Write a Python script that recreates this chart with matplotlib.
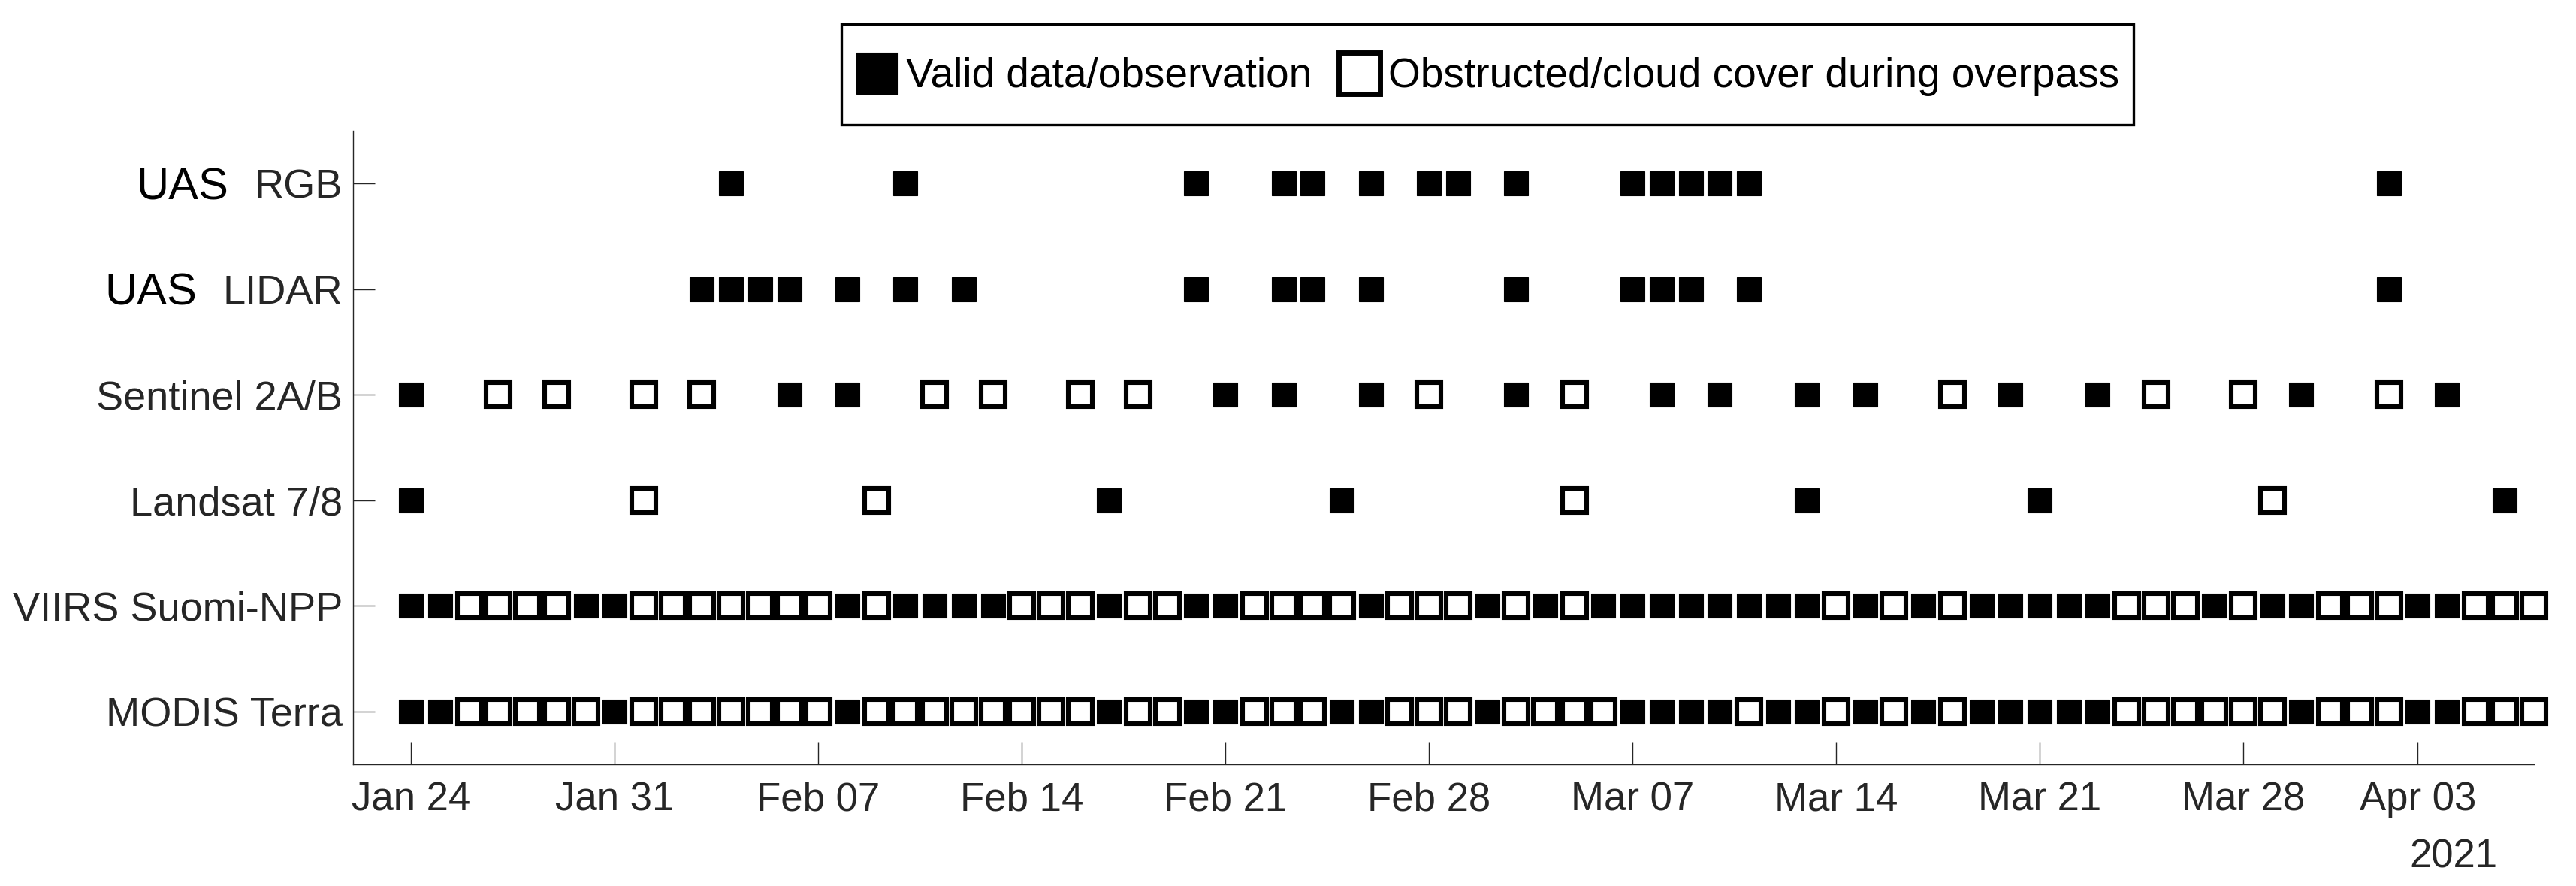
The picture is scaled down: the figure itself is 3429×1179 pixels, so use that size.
import matplotlib
matplotlib.use("Agg")
import matplotlib.pyplot as plt
import matplotlib.dates as mdates
from matplotlib.lines import Line2D
from matplotlib.transforms import IdentityTransform
import numpy as np
import pandas as pd

plt.rcParams["font.family"] = ["Liberation Sans", "DejaVu Sans"]

# rows, bottom to top
row_labels = ["MODIS Terra", "VIIRS Suomi-NPP", "Landsat 7/8", "Sentinel 2A/B", "LIDAR", "RGB"]

# daily overpasses Jan 24 .. Apr 07 (1 = valid, 0 = obstructed)
daily_start = "2021-01-24"
modis_valid = [1, 1, 0, 0, 0, 0, 0, 1, 0, 0,
               0, 0, 0, 0, 0, 1, 0, 0, 0, 0,
               0, 0, 0, 0, 1, 0, 0, 1, 1, 0,
               0, 0, 1, 1, 0, 0, 0, 1, 0, 0,
               0, 0, 1, 1, 1, 1, 0, 1, 1, 0,
               1, 0, 1, 0, 1, 1, 1, 1, 1, 0,
               0, 0, 0, 0, 0, 1, 0, 0, 0, 1,
               1, 0, 0, 0]
viirs_valid = [1, 1, 0, 0, 0, 0, 1, 1, 0, 0,
               0, 0, 0, 0, 0, 1, 0, 1, 1, 1,
               1, 0, 0, 0, 1, 0, 0, 1, 1, 0,
               0, 0, 0, 1, 0, 0, 0, 1, 0, 1,
               0, 1, 1, 1, 1, 1, 1, 1, 1, 0,
               1, 0, 1, 0, 1, 1, 1, 1, 1, 0,
               0, 0, 1, 0, 1, 1, 0, 0, 0, 1,
               1, 0, 0, 0]

landsat_dates = ["2021-01-24", "2021-02-01", "2021-02-09", "2021-02-17", "2021-02-25",
                 "2021-03-05", "2021-03-13", "2021-03-21", "2021-03-29", "2021-04-06"]
landsat_valid = [1, 0, 0, 1, 1, 0, 1, 1, 0, 1]

sentinel_dates = ["2021-01-24", "2021-01-27", "2021-01-29", "2021-02-01", "2021-02-03",
                  "2021-02-06", "2021-02-08", "2021-02-11", "2021-02-13", "2021-02-16",
                  "2021-02-18", "2021-02-21", "2021-02-23", "2021-02-26", "2021-02-28",
                  "2021-03-03", "2021-03-05", "2021-03-08", "2021-03-10", "2021-03-13",
                  "2021-03-15", "2021-03-18", "2021-03-20", "2021-03-23", "2021-03-25",
                  "2021-03-28", "2021-03-30", "2021-04-02", "2021-04-04"]
sentinel_valid = [1, 0, 0, 0, 0, 1, 1, 0, 0, 0,
                  0, 1, 1, 1, 0, 1, 0, 1, 1, 1,
                  1, 0, 1, 1, 0, 0, 1, 0, 1]

lidar_dates = ["2021-02-03", "2021-02-04", "2021-02-05", "2021-02-06", "2021-02-08",
               "2021-02-10", "2021-02-12", "2021-02-20", "2021-02-23", "2021-02-24",
               "2021-02-26", "2021-03-03", "2021-03-07", "2021-03-08", "2021-03-09",
               "2021-03-11", "2021-04-02"]
rgb_dates = ["2021-02-04", "2021-02-10", "2021-02-20", "2021-02-23", "2021-02-24",
             "2021-02-26", "2021-02-28", "2021-03-01", "2021-03-03", "2021-03-07",
             "2021-03-08", "2021-03-09", "2021-03-10", "2021-03-11", "2021-04-02"]

tick_dates = ["2021-01-24", "2021-01-31", "2021-02-07", "2021-02-14", "2021-02-21",
              "2021-02-28", "2021-03-07", "2021-03-14", "2021-03-21", "2021-03-28",
              "2021-04-03"]

daily_dates = pd.date_range(daily_start, periods=len(modis_valid), freq="D")
rows = [
    (daily_dates, modis_valid),
    (daily_dates, viirs_valid),
    (pd.to_datetime(landsat_dates), landsat_valid),
    (pd.to_datetime(sentinel_dates), sentinel_valid),
    (pd.to_datetime(lidar_dates), [1] * len(lidar_dates)),
    (pd.to_datetime(rgb_dates), [1] * len(rgb_dates)),
]

dark = "#262626"
fig = plt.figure(figsize=(17.15, 5.895), dpi=200)
ax = fig.add_axes([0.137, 0.1374, 0.8464, 0.715])

ms = 11.5
for i, (dates, valid) in enumerate(rows):
    y = i + 1
    valid = np.array(valid, dtype=bool)
    d = np.array(dates)
    if (~valid).any():
        ax.plot(d[~valid], np.full((~valid).sum(), y), "s", ls="none", ms=ms,
                mfc="white", mec="black", mew=2.2, clip_on=False, zorder=3)
    if valid.any():
        ax.plot(d[valid], np.full(valid.sum(), y), "s", ls="none", ms=ms,
                mfc="black", mec="black", mew=0.4, clip_on=False, zorder=4)

ax.set_xlim(pd.Timestamp("2021-01-22"), pd.Timestamp("2021-04-07"))
ax.set_ylim(0.5, 6.5)
ax.set_xticks(pd.to_datetime(tick_dates))
ax.xaxis.set_major_formatter(mdates.DateFormatter("%b %d"))
ax.set_yticks(range(1, len(row_labels) + 1))
ax.set_yticklabels(row_labels)

for s in ["top", "right"]:
    ax.spines[s].set_visible(False)
for s in ["left", "bottom"]:
    ax.spines[s].set_color(dark)
    ax.spines[s].set_linewidth(0.5)
ax.tick_params(axis="both", direction="in", length=10.4, width=0.5, color=dark,
               labelcolor=dark)
ax.tick_params(axis="x", pad=8, labelsize=19)
ax.tick_params(axis="y", pad=5, labelsize=19.5)

# year under the last tick
fig.text(0.9522, 0.0212, "2021", ha="center", va="baseline", fontsize=19, color=dark)

leg_fs = 19.8
leg_hh = 2.3
handles = [
    Line2D([], [], marker="s", ls="none", ms=19.8, mfc="black", mec="black", mew=0.4),
    Line2D([], [], marker="s", ls="none", ms=19.8, mfc="white", mec="black", mew=2.5),
]
leg = fig.legend(handles, ["Valid data/observation", "Obstructed/cloud cover during overpass"],
                 ncol=2, loc="upper center", bbox_to_anchor=(0.5773, 0.973),
                 borderaxespad=0, fontsize=leg_fs, frameon=True, fancybox=False,
                 edgecolor="black", framealpha=1, handlelength=1.0, handleheight=leg_hh,
                 handletextpad=0.2, columnspacing=0.65, borderpad=0.35)
leg.get_frame().set_linewidth(1.2)
# tall handle boxes push the markers up; bring them back level with the text
for h in leg.legend_handles:
    h.set_ydata(np.asarray(h.get_ydata()) - leg_fs * 0.15 * (leg_hh - 0.7))

# "UAS" prefix in a larger black font for the drone rows
fig.canvas.draw()
renderer = fig.canvas.get_renderer()
for lbl in ax.get_yticklabels():
    if lbl.get_text() in ("RGB", "LIDAR"):
        bb = lbl.get_window_extent(renderer)
        fig.text(bb.x0 - 34, (bb.y0 + bb.y1) / 2, "UAS", transform=IdentityTransform(),
                 ha="right", va="center", fontsize=21.5, color="black")

fig.savefig("out.png", dpi=200)
